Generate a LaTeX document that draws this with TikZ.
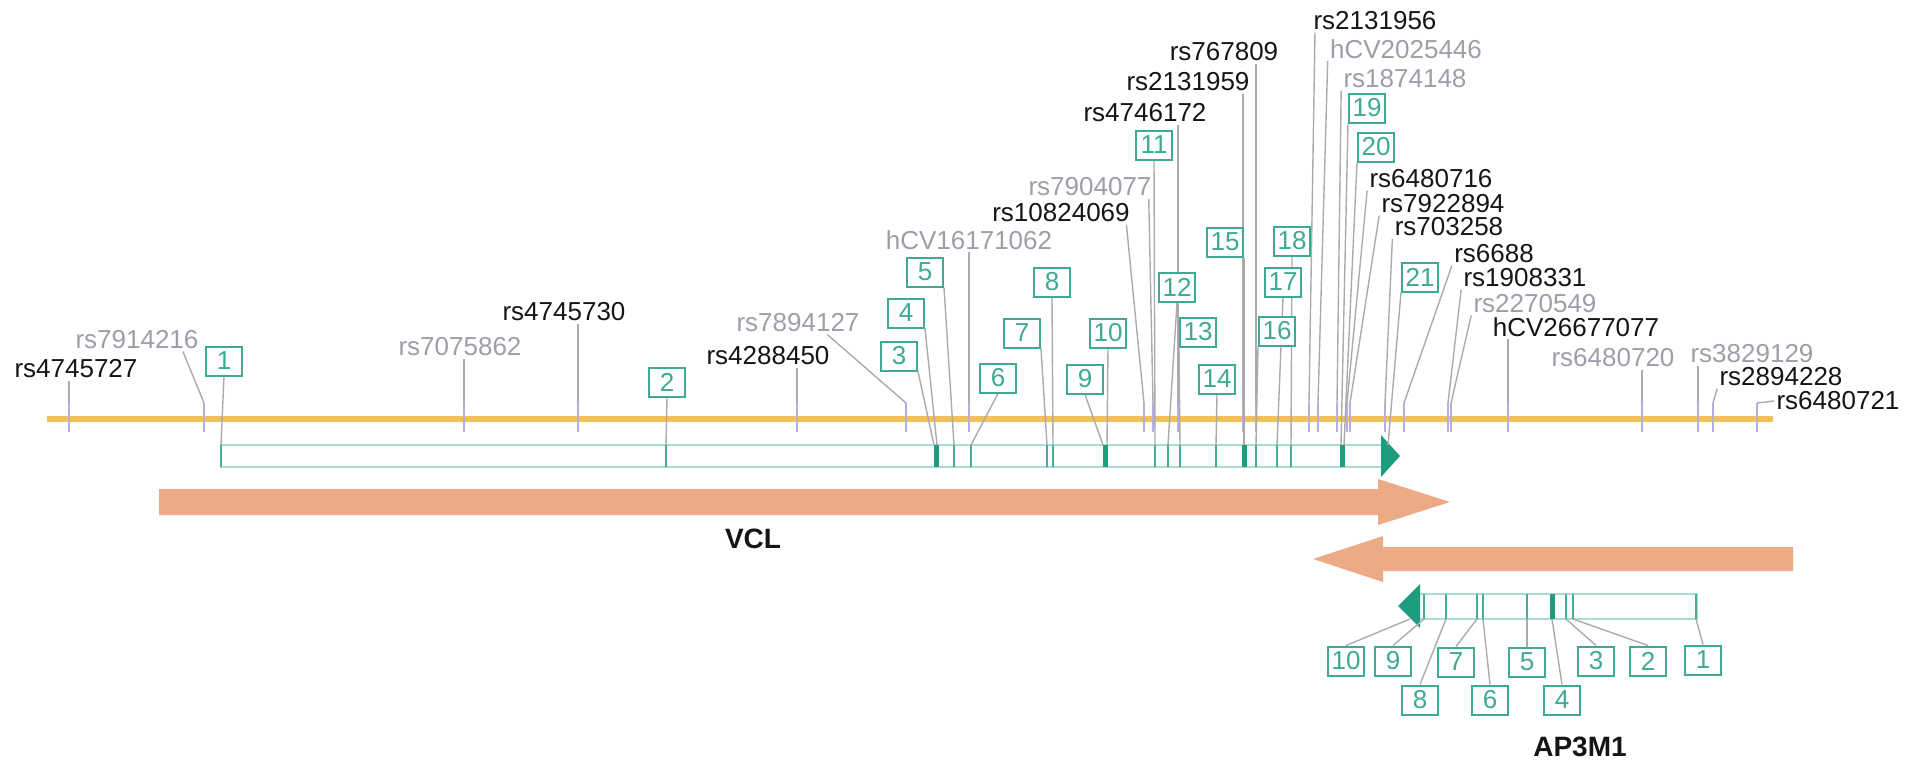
\documentclass[tikz,border=0pt]{standalone}
\usepackage{fontspec}
\setmainfont{Liberation Sans}
\usetikzlibrary{calc,backgrounds}
\definecolor{chromo}{HTML}{F2C05A}
\definecolor{salmon}{HTML}{ECAB86}
\definecolor{exonteal}{HTML}{45AE97}
\definecolor{darkteal}{HTML}{1E9C80}
\definecolor{paleteal}{HTML}{A9DDD1}
\definecolor{boxteal}{HTML}{3FAA94}
\definecolor{snpgray}{HTML}{9E9EAA}
\definecolor{leadgray}{HTML}{ABABAB}
\definecolor{tickviolet}{HTML}{B6AEE2}
\definecolor{labelblack}{HTML}{151515}
\tikzset{
  snp/.style={inner sep=1pt, font=\fontsize{13}{15}\selectfont, text=labelblack},
  snpgrey/.style={snp, text=snpgray},
  exbox/.style={draw=boxteal, line width=1pt, fill=white, text=boxteal, minimum width=18pt, minimum height=14.5pt, inner sep=0pt, font=\fontsize{13}{15}\selectfont},
  lead/.style={draw=leadgray, line width=0.7pt},
  snptick/.style={draw=tickviolet, line width=0.9pt},
  chromosome/.style={draw=chromo, line width=3pt},
  transcript/.style={draw=paleteal, line width=1pt},
  exon/.style={draw=exonteal, line width=1pt},
  bigexon/.style={draw=darkteal, line width=2.5pt},
  genearrow/.style={fill=salmon, draw=none},
  genename/.style={font=\fontsize{14}{16}\selectfont\bfseries, text=labelblack}
}

\begin{document}
\begin{tikzpicture}[x=0.5pt, y=-0.5pt]
  \useasboundingbox (0,0) rectangle (1919,762);

  % SNP labels
  \node[snp] (s1) at (76,369) {rs4745727};
  \node[snpgrey] (s2) at (137,340) {rs7914216};
  \node[snpgrey] (s3) at (460,347) {rs7075862};
  \node[snp] (s4) at (564,312) {rs4745730};
  \node[snp] (s5) at (768,356) {rs4288450};
  \node[snpgrey] (s6) at (798,323) {rs7894127};
  \node[snpgrey] (s7) at (969,240) {hCV16171062};
  \node[snp] (s8) at (1061,213) {rs10824069};
  \node[snpgrey] (s9) at (1090,187) {rs7904077};
  \node[snp] (s10) at (1145,113) {rs4746172};
  \node[snp] (s11) at (1188,82) {rs2131959};
  \node[snp] (s12) at (1224,52) {rs767809};
  \node[snp] (s13) at (1375,21) {rs2131956};
  \node[snpgrey] (s14) at (1406,49) {hCV2025446};
  \node[snpgrey] (s15) at (1405,79) {rs1874148};
  \node[snp] (s16) at (1431,179) {rs6480716};
  \node[snp] (s17) at (1443,204) {rs7922894};
  \node[snp] (s18) at (1449,227) {rs703258};
  \node[snp] (s19) at (1494,254) {rs6688};
  \node[snp] (s20) at (1525,278) {rs1908331};
  \node[snpgrey] (s21) at (1535,304) {rs2270549};
  \node[snp] (s22) at (1576,327) {hCV26677077};
  \node[snpgrey] (s23) at (1613,358) {rs6480720};
  \node[snpgrey] (s24) at (1752,354) {rs3829129};
  \node[snp] (s25) at (1781,377) {rs2894228};
  \node[snp] (s26) at (1838,401) {rs6480721};

  % VCL exon numbers
  \node[exbox] (v1) at (224,361) {1};
  \node[exbox] (v2) at (667,382) {2};
  \node[exbox] (v3) at (899,356) {3};
  \node[exbox] (v4) at (906,313) {4};
  \node[exbox] (v5) at (925,272) {5};
  \node[exbox] (v6) at (998,378) {6};
  \node[exbox] (v7) at (1022,333) {7};
  \node[exbox] (v8) at (1052,282) {8};
  \node[exbox] (v9) at (1085,379) {9};
  \node[exbox] (v10) at (1108,333) {10};
  \node[exbox] (v11) at (1154,145) {11};
  \node[exbox] (v12) at (1177,287) {12};
  \node[exbox] (v13) at (1198,332) {13};
  \node[exbox] (v14) at (1217,379) {14};
  \node[exbox] (v15) at (1225,242) {15};
  \node[exbox] (v16) at (1277,331) {16};
  \node[exbox] (v17) at (1283,282) {17};
  \node[exbox] (v18) at (1292,241) {18};
  \node[exbox] (v19) at (1367,108) {19};
  \node[exbox] (v20) at (1376,147) {20};
  \node[exbox] (v21) at (1420,277) {21};

  % AP3M1 exon numbers
  \node[exbox] (a1) at (1703,660) {1};
  \node[exbox] (a2) at (1648,661) {2};
  \node[exbox] (a3) at (1596,661) {3};
  \node[exbox] (a4) at (1562,700) {4};
  \node[exbox] (a5) at (1527,662) {5};
  \node[exbox] (a6) at (1490,700) {6};
  \node[exbox] (a7) at (1456,662) {7};
  \node[exbox] (a8) at (1420,700) {8};
  \node[exbox] (a9) at (1393,661) {9};
  \node[exbox] (a10) at (1346,661) {10};

  \node[genename] (vcl) at (753,539) {VCL};
  \node[genename] (ap3m1) at (1580,747) {AP3M1};

  \begin{scope}[on background layer]
    % chromosome and gene arrows
    \draw[chromosome] (47,419) -- (1773,419);
    \fill[genearrow] (159,489) -- (1378,489) -- (1378,479) -- (1450,502) -- (1378,525) -- (1378,515) -- (159,515) -- cycle;
    \fill[genearrow] (1793,547) -- (1383,547) -- (1383,536) -- (1313,559) -- (1383,582) -- (1383,571) -- (1793,571) -- cycle;

    % transcripts
    \draw[transcript] (221,445) rectangle (1382,467);
    \fill[darkteal] (1381,435) -- (1400,456) -- (1381,477) -- cycle;
    \foreach \x in {221,666,954,971,1047,1053,1155,1168,1180,1216,1256,1277,1291}
      \draw[exon] (\x,445) -- (\x,467);
    \foreach \x in {936,1105,1244,1342,1385}
      \draw[bigexon] (\x,445) -- (\x,467);
    \draw[transcript] (1417,594) rectangle (1697,619);
    \fill[darkteal] (1420,584) -- (1398,606) -- (1420,628) -- cycle;
    \foreach \x in {1424,1446,1477,1483,1527,1566,1573,1696}
      \draw[exon] (\x,594) -- (\x,619);
    \draw[bigexon] (1552,594) -- (1552,619);

    % SNP ticks
    \foreach \n/\x in {1/69,2/204,3/464,4/578,5/797,6/906,7/969,8/1144,9/1153,10/1178,11/1243,12/1256,13/1309,
                       14/1318,15/1337,16/1347,17/1350,18/1385,19/1404,20/1448,21/1451,22/1508,23/1642,24/1698,25/1713,26/1757}
      {\coordinate (t\n) at (\x,403);
       \draw[snptick] (t\n) -- ++(0,29);}

    % SNP leaders
    \draw[lead] (s1.south -| t1) -- (t1);
    \draw[lead] ($(s2.south west)!0.86!(s2.south east)$) -- (t2);
    \draw[lead] (s3.south -| t3) -- (t3);
    \draw[lead] (s4.south -| t4) -- (t4);
    \draw[lead] (s5.south -| t5) -- (t5);
    \draw[lead] ($(s6.south west)!0.73!(s6.south east)$) -- (t6);
    \draw[lead] (s7.south -| t7) -- (t7);
    \draw[lead] ($(s8.south west)!0.96!(s8.south east)$) -- (t8);
    \draw[lead] ($(s9.south west)!0.96!(s9.south east)$) -- (t9);
    \draw[lead] (s10.south -| t10) -- (t10);
    \draw[lead] (s11.south -| t11) -- (t11);
    \draw[lead] (s12.south -| t12) -- (t12);
    \draw[lead] ($(s13.south west)!0.03!(s13.south east)$) -- (t13);
    \draw[lead] (s14.south west) -- (t14);
    \draw[lead] (s15.south west) -- (t15);
    \draw[lead] (s16.south west) -- (t16);
    \draw[lead] (s17.south west) -- (t17);
    \draw[lead] (s18.south west) -- (t18);
    \draw[lead] (s19.south west) -- (t19);
    \draw[lead] (s20.south west) -- (t20);
    \draw[lead] (s21.south west) -- (t21);
    \draw[lead] (s22.south -| t22) -- (t22);
    \draw[lead] (s23.south -| t23) -- (t23);
    \draw[lead] (s24.south -| t24) -- (t24);
    \draw[lead] (s25.south west) -- (t25);
    \draw[lead] (s26.west) -- (t26);

    % VCL exon leaders
    \foreach \n/\x in {1/221,2/666,3/934,4/937,5/954,6/971,7/1047,8/1053,9/1103,10/1107,11/1155,
                       12/1168,13/1180,14/1216,15/1244,16/1256,17/1277,18/1291,19/1341,20/1344,21/1388}
      \coordinate (x\n) at (\x,445);
    \draw[lead] (v1.south) -- (x1);
    \draw[lead] (v2.south) -- (x2);
    \draw[lead] (v3.south east) -- (x3);
    \draw[lead] (v4.south east) -- (x4);
    \draw[lead] (v5.south east) -- (x5);
    \draw[lead] (v6.south) -- (x6);
    \draw[lead] (v7.south east) -- (x7);
    \draw[lead] (v8.south) -- (x8);
    \draw[lead] (v9.south) -- (x9);
    \draw[lead] (v10.south) -- (x10);
    \draw[lead] (v11.south) -- (x11);
    \draw[lead] (v12.south) -- (x12);
    \draw[lead] (v13.south west) -- (x13);
    \draw[lead] (v14.south) -- (x14);
    \draw[lead] (v15.south east) -- (x15);
    \draw[lead] (v16.south west) -- (x16);
    \draw[lead] (v17.south) -- (x17);
    \draw[lead] (v18.south) -- (x18);
    \draw[lead] (v19.south west) -- (x19);
    \draw[lead] (v20.south west) -- (x20);
    \draw[lead] (v21.south west) -- (x21);

    % AP3M1 exon leaders
    \foreach \n/\x in {1/1696,2/1573,3/1566,4/1552,5/1527,6/1483,7/1477,8/1446,9/1424,10/1410}
      \coordinate (y\n) at (\x,619);
    \foreach \n in {1,...,10}
      \draw[lead] (a\n.north) -- (y\n);
  \end{scope}
\end{tikzpicture}
\end{document}
